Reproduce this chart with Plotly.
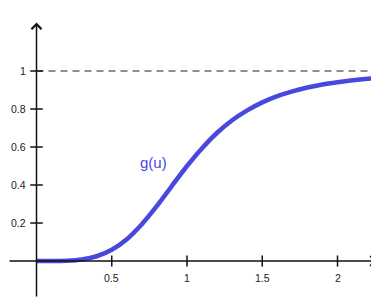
import plotly.graph_objects as go

# Data
u_vals = [0.0, 0.1, 0.2, 0.3, 0.4, 0.5, 0.6, 0.7, 0.8, 0.9, 1.0, 1.1, 1.2, 1.3,
          1.4, 1.5, 1.6, 1.7, 1.8, 1.9, 2.0, 2.1, 2.2, 2.27]
g_vals = [0.0, 0.0001, 0.0016, 0.008, 0.025, 0.059, 0.115, 0.194, 0.29, 0.396,
          0.5, 0.594, 0.675, 0.741, 0.793, 0.835, 0.868, 0.893, 0.913, 0.929,
          0.941, 0.951, 0.959, 0.964]
x_ticks = [0.5, 1, 1.5, 2]
x_tick_labels = ["0.5", "1", "1.5", "2"]
y_ticks = [0.2, 0.4, 0.6, 0.8, 1]
y_tick_labels = ["0.2", "0.4", "0.6", "0.8", "1"]
asymptote = 1
curve_label = "g(u)"

X_RANGE = [-0.1894, 2.2757]
Y_RANGE = [-0.1947, 1.3316]
AXIS_X = [-0.1894, 2.262]
AXIS_Y = [-0.1947, 1.255]
BLUE = "#4848DE"
TXT = "#222222"
FONT = "Liberation Sans, Arial, Helvetica, sans-serif"

fig = go.Figure()

# dashed asymptote
fig.add_trace(go.Scatter(x=[0, X_RANGE[1]], y=[asymptote, asymptote], mode="lines",
                         line=dict(color="#222222", width=1, dash="7px,5px"),
                         hoverinfo="skip", showlegend=False))

# axes lines with arrows
fig.add_annotation(x=AXIS_X[1], y=0, ax=AXIS_X[0], ay=0, xref="x", yref="y",
                   axref="x", ayref="y", showarrow=True, arrowhead=4,
                   arrowsize=1.3, arrowwidth=1.5, arrowcolor="#111111", text="")
fig.add_annotation(x=0, y=AXIS_Y[1], ax=0, ay=AXIS_Y[0], xref="x", yref="y",
                   axref="x", ayref="y", showarrow=True, arrowhead=4,
                   arrowsize=1.3, arrowwidth=1.5, arrowcolor="#111111", text="")

# tick crosses
fig.add_trace(go.Scatter(x=x_ticks, y=[0] * len(x_ticks), mode="markers",
                         marker=dict(symbol="line-ns", size=8,
                                     line=dict(color="#111111", width=1.5)),
                         hoverinfo="skip", showlegend=False))
fig.add_trace(go.Scatter(x=[0] * len(y_ticks), y=y_ticks, mode="markers",
                         marker=dict(symbol="line-ew", size=9,
                                     line=dict(color="#111111", width=1.5)),
                         hoverinfo="skip", showlegend=False))

# curve
fig.add_trace(go.Scatter(x=u_vals, y=g_vals, mode="lines",
                         line=dict(color=BLUE, width=4.5, shape="spline", smoothing=0.6),
                         hoverinfo="skip", showlegend=False))

# tick labels
for xv, lab in zip(x_ticks, x_tick_labels):
    fig.add_annotation(x=xv, y=0, xref="x", yref="y", text=lab, showarrow=False,
                       yshift=-17, font=dict(family=FONT, size=10.5, color=TXT))
for yv, lab in zip(y_ticks, y_tick_labels):
    fig.add_annotation(x=0, y=yv, xref="x", yref="y", text=lab, showarrow=False,
                       xanchor="right", xshift=-9,
                       font=dict(family=FONT, size=10.5, color=TXT))

# curve label
fig.add_annotation(x=0.78, y=0.52, xref="x", yref="y", text=curve_label,
                   showarrow=False, font=dict(family=FONT, size=15, color=BLUE))

fig.update_layout(
    width=371, height=290,
    margin=dict(l=0, r=0, t=0, b=0),
    paper_bgcolor="white", plot_bgcolor="white",
    xaxis=dict(range=X_RANGE, visible=False, fixedrange=True),
    yaxis=dict(range=Y_RANGE, visible=False, fixedrange=True),
)

fig.write_html("out.html")
